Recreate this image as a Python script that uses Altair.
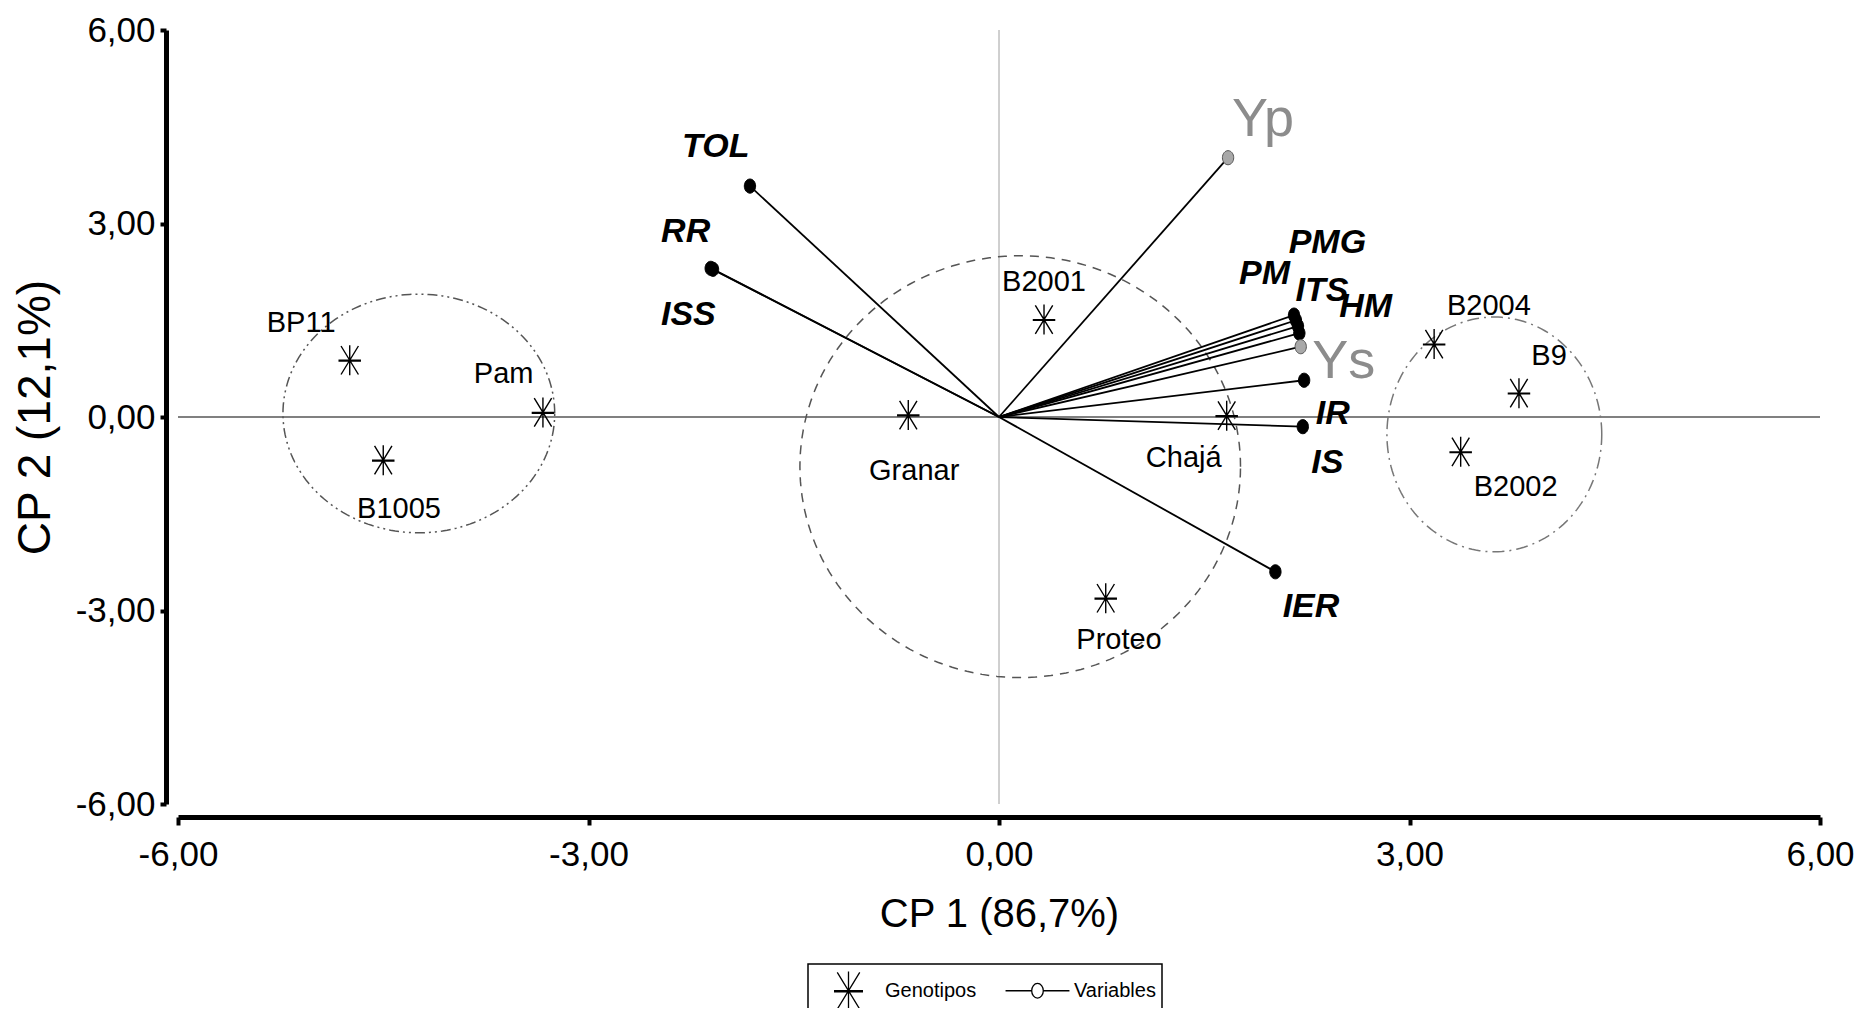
import altair as alt
import numpy as np
import pandas as pd

NARROW = "'Liberation Sans Narrow', 'Arial Narrow', 'Liberation Sans', Arial, sans-serif"
REG = "'Liberation Sans', Arial, sans-serif"

# ---- Genotypes (scores) ----
gen_names = ["BP11", "B1005", "Pam", "Granar", "B2001", "Chajá", "Proteo", "B2004", "B9", "B2002"]
gen_x = [-4.745, -4.50, -3.333, -0.663, 0.329, 1.664, 0.78, 3.18, 3.80, 3.374]
gen_y = [0.88, -0.67, 0.07, 0.03, 1.51, 0.02, -2.81, 1.13, 0.37, -0.54]
gen_label_x = [-5.10, -4.385, -3.62, -0.62, 0.329, 1.35, 0.877, 3.58, 4.02, 3.776]
gen_label_y = [1.46, -1.43, 0.66, -0.83, 2.10, -0.64, -3.46, 1.72, 0.95, -1.08]

# ---- Variables (loadings) ----
var_names = ["TOL", "RR", "ISS", "Yp", "PMG", "PM", "ITS", "HM", "Ys", "IR", "IS", "IER"]
var_x = [-1.82, -2.107, -2.09, 1.674, 2.156, 2.17, 2.185, 2.195, 2.205, 2.23, 2.22, 2.02]
var_y = [3.58, 2.305, 2.29, 4.02, 1.58, 1.50, 1.41, 1.30, 1.09, 0.57, -0.15, -2.40]
var_label_x = [-2.07, -2.29, -2.27, 1.93, 2.40, 1.94, 2.36, 2.68, 2.52, 2.44, 2.40, 2.28]
var_label_y = [4.18, 2.87, 1.58, 4.60, 2.69, 2.22, 1.96, 1.70, 0.86, 0.05, -0.72, -2.95]

# ---- Group ellipses (centre / radii in data units) ----
ell_group = ["izq", "centro", "der"]
ell_cx = [-4.24, 0.155, 3.62]
ell_cy = [0.055, -0.77, -0.27]
ell_rx = [0.993, 1.61, 0.785]
ell_ry = [1.85, 3.27, 1.82]

axis_values = [-6, -3, 0, 3, 6]
axis_min, axis_max = -6, 6
legend_items = ["Genotipos", "Variables"]

# ---- tables ----
gen_df = pd.DataFrame({"name": gen_names, "x": gen_x, "y": gen_y, "tipo": "Genotipos"})
gen_lab_df = pd.DataFrame({"name": gen_names, "x": gen_label_x, "y": gen_label_y})
var_df = pd.DataFrame({"name": var_names, "x": var_x, "y": var_y})
var_lab_df = pd.DataFrame({"name": var_names, "x": var_label_x, "y": var_label_y})

t = np.linspace(0, 2 * np.pi, 181)
rows = []
for g, cx, cy, rx, ry in zip(ell_group, ell_cx, ell_cy, ell_rx, ell_ry):
    for i, tt in enumerate(t):
        rows.append({"grupo": g, "i": i, "x": cx + rx * np.cos(tt), "y": cy + ry * np.sin(tt)})
ell_df = pd.DataFrame(rows)

hline_df = pd.DataFrame({"x": [axis_min], "x2": [axis_max], "y": [0]})
vline_df = pd.DataFrame({"x": [0], "y": [axis_min], "y2": [axis_max]})

label_expr = "toString(datum.value) + ',00'"
X = alt.X("x:Q", scale=alt.Scale(domain=[axis_min, axis_max], nice=False, zero=False),
          axis=alt.Axis(values=axis_values, labelExpr=label_expr, title="CP 1 (86,7%)",
                        offset=13, tickSize=8, labelPadding=12, titlePadding=22,
                        titleFont=NARROW, titleFontSize=40, labelFlush=False))
Y = alt.Y("y:Q", scale=alt.Scale(domain=[axis_min, axis_max], nice=False, zero=False),
          axis=alt.Axis(values=axis_values, labelExpr=label_expr, title="CP 2 (12,1%)",
                        offset=12, tickSize=6, labelPadding=5, titlePadding=16,
                        titleFont=REG, titleFontSize=46, labelFlush=False))

hline = alt.Chart(hline_df).mark_rule(color="#808080", strokeWidth=2).encode(x=X, x2="x2:Q", y=Y)
vline = alt.Chart(vline_df).mark_rule(color="#a0a0a0", strokeWidth=1).encode(x=X, y=Y, y2="y2:Q")

dash_styles = {"izq": [10, 4, 2, 4, 2, 4], "centro": [9, 7], "der": [12, 5, 2, 5]}
ell_colors = {"izq": "#555555", "centro": "#555555", "der": "#777777"}
ell_layers = []
for g in ell_group:
    ell_layers.append(
        alt.Chart(ell_df).transform_filter(alt.datum.grupo == g)
        .mark_line(strokeDash=dash_styles[g], color=ell_colors[g], strokeWidth=1.5)
        .encode(x=X, y=Y, order="i:Q")
    )

vectors = alt.Chart(var_df).mark_rule(color="black", strokeWidth=1.8).encode(
    x=X, y=Y, x2=alt.datum(0), y2=alt.datum(0))

dot_path = "M 0 -1 A 0.8 1 0 1 1 0 1 A 0.8 1 0 1 1 0 -1 Z"
is_gray = "indexof(['Yp','Ys'], datum.name) >= 0"
dots = alt.Chart(var_df).mark_point(shape=dot_path, size=200, filled=True, strokeWidth=1,
                                    opacity=1).encode(
    x=X, y=Y,
    fill=alt.condition(is_gray, alt.value("#a8a8a8"), alt.value("black")),
    stroke=alt.condition(is_gray, alt.value("#555555"), alt.value("black")),
)

star_path = ("M 0 -1 L 0 1 M -0.75 0 L 0.75 0 M -0.75 0.05 L 0.75 0.05 "
             "M -0.58 -0.95 L 0.58 0.95 M -0.58 0.95 L 0.58 -0.95")
linedot_path = ("M 0 -1 L 0 -1 M 0 1 L 0 1 "
                "M -1.65 0 L -0.3 0 M 0.3 0 L 1.65 0 "
                "M -0.3 0 A 0.3 0.38 0 1 1 0.3 0 A 0.3 0.38 0 1 1 -0.3 0 Z")

legend = alt.Legend(title=None, orient="none", legendX=630, legendY=934, direction="horizontal",
                    padding=6, strokeColor="black", fillColor="white",
                    labelFont=NARROW, labelFontSize=20, labelColor="black", labelOffset=16,
                    symbolOffset=14, columnPadding=25, symbolSize=1500,
                    symbolStrokeColor="black", symbolStrokeWidth=1.3, symbolOpacity=1)

stars = alt.Chart(gen_df).mark_point(filled=False, size=900, strokeWidth=1.4, opacity=1,
                                     color="black").encode(
    x=X, y=Y,
    shape=alt.Shape("tipo:N", scale=alt.Scale(domain=legend_items, range=[star_path, linedot_path]),
                    legend=legend),
)

gen_labels = alt.Chart(gen_lab_df).mark_text(font=NARROW, fontSize=29, color="black",
                                             align="center", baseline="middle").encode(
    x=X, y=Y, text="name:N")

var_labels = alt.Chart(var_lab_df).transform_filter(
    "indexof(['Yp','Ys'], datum.name) < 0"
).mark_text(font=NARROW, fontSize=34, fontWeight="bold", fontStyle="italic", color="black",
            align="center", baseline="middle").encode(x=X, y=Y, text="name:N")

gray_labels = alt.Chart(var_lab_df).transform_filter(
    "indexof(['Yp','Ys'], datum.name) >= 0"
).mark_text(font=NARROW, fontSize=54, color="#8c8c8c",
            align="center", baseline="middle").encode(x=X, y=Y, text="name:N")

chart = alt.layer(hline, vline, *ell_layers, vectors, dots, stars, gen_labels, var_labels, gray_labels
).properties(
    width=1642, height=774,
    autosize=alt.AutoSizeParams(type="none"),
    padding={"left": 170, "top": 22, "right": 34, "bottom": 204},
    background="white",
).configure_view(strokeWidth=0).configure_axis(
    grid=False, domainColor="black", domainWidth=5, tickColor="black", tickWidth=4,
    labelColor="black", labelFont=NARROW, labelFontSize=35, titleColor="black",
    titleFontWeight="normal",
).configure_legend(strokeWidth=1.5)

chart.save("out.html", embed_options={"renderer": "svg", "actions": False})
